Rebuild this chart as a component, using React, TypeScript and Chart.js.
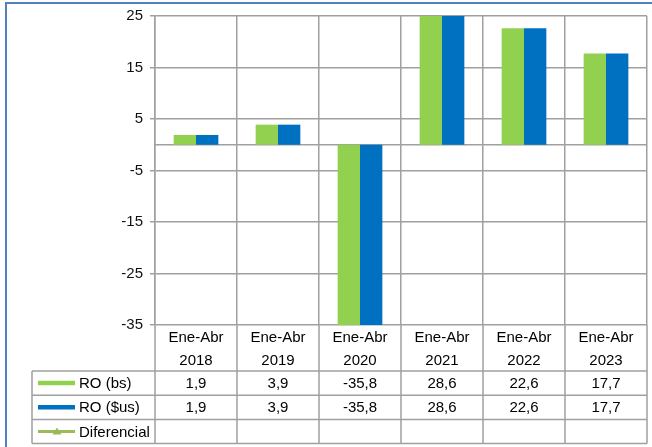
import { useEffect, useRef } from "react";
import { Chart, registerables } from "chart.js";

Chart.register(...registerables);

const categories: string[][] = [
  ["Ene-Abr", "2018"],
  ["Ene-Abr", "2019"],
  ["Ene-Abr", "2020"],
  ["Ene-Abr", "2021"],
  ["Ene-Abr", "2022"],
  ["Ene-Abr", "2023"],
];
const roBs: number[] = [1.9, 3.9, -35.8, 28.6, 22.6, 17.7];
const roUs: number[] = [1.9, 3.9, -35.8, 28.6, 22.6, 17.7];
const diferencial: (number | null)[] = [null, null, null, null, null, null];
const yTicks: number[] = [-35, -25, -15, -5, 5, 15, 25];
const seriesNames: string[] = ["RO (bs)", "RO ($us)", "Diferencial"];

const GREEN = "#92D050";
const BLUE = "#0070C0";
const OLIVE = "#9BBB59";
const GRID = "#A0A0A0";
const FONT = "'Liberation Sans', Arial, sans-serif";

const fmt = (v: number | null) =>
  v === null || v === undefined ? "" : v.toFixed(1).replace(".", ",");

const tablePlugin = {
  id: "dataTable",
  beforeDatasetsDraw(chart: any) {
    const { ctx, chartArea, scales } = chart;
    const y0 = scales.y.getPixelForValue(0);
    ctx.save();
    ctx.strokeStyle = GRID;
    ctx.lineWidth = 1.5;
    ctx.beginPath();
    ctx.moveTo(chartArea.left, y0);
    ctx.lineTo(chartArea.right, y0);
    ctx.stroke();
    ctx.restore();
  },
  afterDraw(chart: any) {
    const { ctx, chartArea, scales } = chart;
    const xs = scales.x;
    const n = categories.length;
    const half = (xs.getPixelForValue(1) - xs.getPixelForValue(0)) / 2;
    const bounds: number[] = [];
    for (let i = 0; i < n; i++) bounds.push(xs.getPixelForValue(i) - half);
    bounds.push(xs.getPixelForValue(n - 1) + half);

    const tableTop = chartArea.bottom + 46;
    const rowH = 24.2;
    const tableBottom = tableTop + rowH * 3;
    const tableLeft = 32;

    ctx.save();
    ctx.strokeStyle = GRID;
    ctx.lineWidth = 1.5;
    ctx.beginPath();
    bounds.forEach((bx) => {
      ctx.moveTo(bx, chartArea.bottom);
      ctx.lineTo(bx, tableBottom);
    });
    ctx.moveTo(tableLeft, tableTop);
    ctx.lineTo(tableLeft, tableBottom);
    for (let k = 0; k <= 3; k++) {
      const yy = tableTop + rowH * k;
      ctx.moveTo(tableLeft, yy);
      ctx.lineTo(chartArea.right, yy);
    }
    ctx.stroke();

    const rows = [roBs, roUs, diferencial];
    const colors = [GREEN, BLUE, OLIVE];
    ctx.font = `15px ${FONT}`;
    ctx.textBaseline = "middle";
    rows.forEach((vals, r) => {
      const cy = tableTop + rowH * r + rowH / 2;
      // legend key
      ctx.strokeStyle = colors[r];
      ctx.lineWidth = r < 2 ? 4.5 : 3;
      ctx.beginPath();
      ctx.moveTo(38, cy);
      ctx.lineTo(75, cy);
      ctx.stroke();
      if (r === 2) {
        ctx.fillStyle = colors[r];
        ctx.beginPath();
        ctx.moveTo(57, cy - 4);
        ctx.lineTo(61.5, cy + 3);
        ctx.lineTo(52.5, cy + 3);
        ctx.closePath();
        ctx.fill();
      }
      ctx.fillStyle = "#000";
      ctx.textAlign = "left";
      ctx.fillText(seriesNames[r], 79, cy + 1);
      ctx.textAlign = "center";
      vals.forEach((v, i) => {
        ctx.fillText(fmt(v), xs.getPixelForValue(i), cy + 1);
      });
    });

    // blue frame
    ctx.strokeStyle = "#4F81BD";
    ctx.lineWidth = 2;
    ctx.beginPath();
    ctx.moveTo(6, 447);
    ctx.lineTo(6, 3);
    ctx.lineTo(652, 3);
    ctx.stroke();
    ctx.restore();
  },
};

export default function App() {
  const ref = useRef<HTMLCanvasElement | null>(null);

  useEffect(() => {
    document.body.style.margin = "0";
    if (!ref.current) return;
    const chart = new Chart(ref.current, {
      type: "bar",
      data: {
        labels: categories,
        datasets: [
          {
            label: seriesNames[0],
            data: roBs,
            backgroundColor: GREEN,
            categoryPercentage: 0.545,
            barPercentage: 1,
          },
          {
            label: seriesNames[1],
            data: roUs,
            backgroundColor: BLUE,
            categoryPercentage: 0.545,
            barPercentage: 1,
          },
          {
            type: "line",
            label: seriesNames[2],
            data: diferencial,
            borderColor: OLIVE,
            backgroundColor: OLIVE,
            pointStyle: "triangle",
          } as any,
        ],
      },
      options: {
        responsive: false,
        animation: false,
        devicePixelRatio: 1,
        layout: { padding: { left: 0, right: 2, top: 14, bottom: 0 } },
        plugins: {
          legend: { display: false },
          tooltip: { enabled: false },
          title: { display: false },
        },
        scales: {
          x: {
            offset: true,
            grid: {
              offset: true,
              color: GRID,
              lineWidth: 1.5,
              drawTicks: false,
            },
            border: { display: false },
            ticks: {
              color: "#000",
              font: { family: FONT, size: 15, lineHeight: 1.5 },
              padding: 2,
              maxRotation: 0,
              autoSkip: false,
            },
            afterFit: (s: any) => {
              s.height = 122;
            },
          },
          y: {
            min: -35,
            max: 25,
            afterBuildTicks: (s: any) => {
              s.ticks = yTicks.map((v) => ({ value: v }));
            },
            grid: {
              color: GRID,
              lineWidth: 1.5,
              tickLength: 5,
            },
            border: { color: GRID, width: 1.5 },
            ticks: {
              color: "#111",
              font: { family: FONT, size: 15 },
              padding: 7,
            },
            afterFit: (s: any) => {
              s.width = 155;
            },
          },
        },
      },
      plugins: [tablePlugin],
    });
    return () => chart.destroy();
  }, []);

  return (
    <div style={{ width: 652, height: 447, position: "relative", background: "#fff" }}>
      <canvas ref={ref} width={652} height={447} style={{ display: "block" }} />
    </div>
  );
}
